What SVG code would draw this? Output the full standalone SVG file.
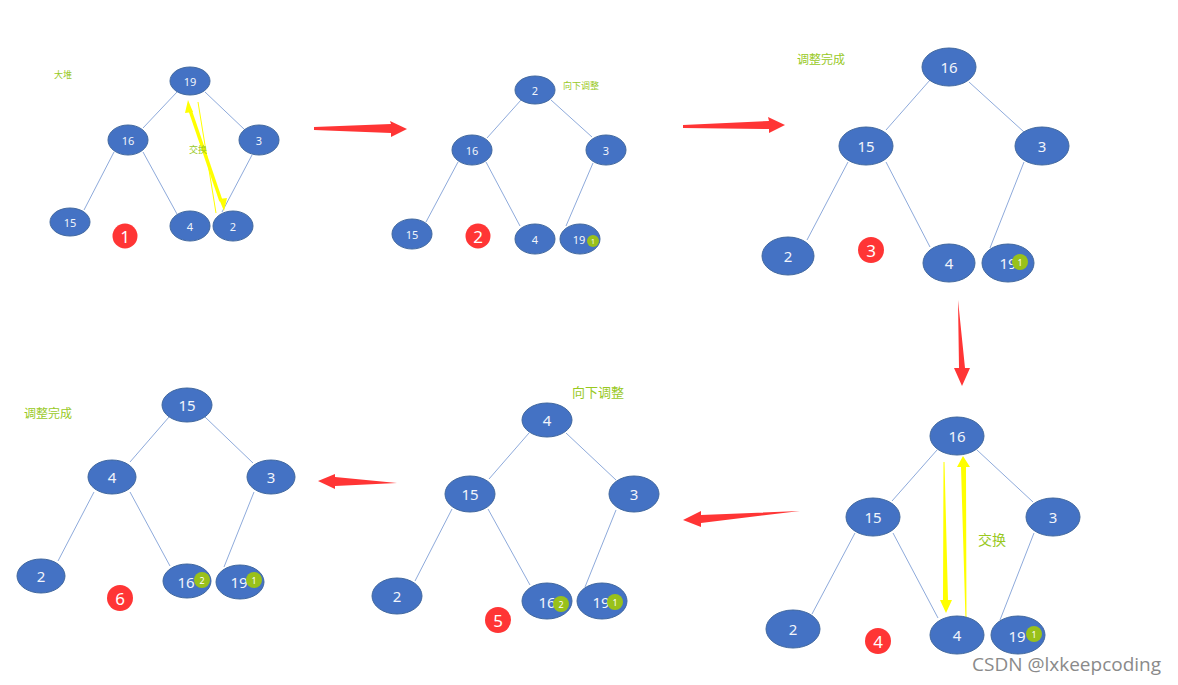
<svg xmlns="http://www.w3.org/2000/svg" width="1178" height="685" viewBox="0 0 1178 685">
<style>
.n{fill:#4472C4;stroke:#41689f;stroke-width:1}
.t{fill:#f2f5fb;font-family:"Noto Sans","Noto Sans CJK SC",sans-serif;text-anchor:middle;dominant-baseline:central}
.s{font-size:11px}
.b{font-size:15px}
.e{stroke:#8eaadb;stroke-width:1;fill:none}
.g{fill:#99c11a}
.gt{fill:#fff;font-family:"Noto Sans",sans-serif;text-anchor:middle;dominant-baseline:central}
.r{fill:#ff3535}
.rt{fill:#fff;font-family:"Noto Sans",sans-serif;text-anchor:middle;dominant-baseline:central;font-size:17px}
.lab{fill:#99c91f;font-family:"Noto Sans CJK SC","Noto Sans",sans-serif}
.ra{fill:#ff3535}
.y{fill:#ffff00}
</style>
<rect width="1178" height="685" fill="#fff"/>
<g id="connectors">
<path class="e" d="M177,92L143,128M205,92L245,130M114,152L84,210M143,152L177,214M252,155L222,212"/>
<path class="e" d="M521,100L487,138M551,100L592,137M458,162L426,222M486,162L520,226M593,163L566,226"/>
<path class="e" d="M930,80L886,130M969,82L1024,132M848,162L807,240M886,162L930,247M1024,162L990,248"/>
<path class="e" d="M937,450L892,501M977,450L1033,502M855,533L812,614M893,533L938,618M1034,533L1000,620"/>
<path class="e" d="M529,433L489,479M566,433L616,480M452,509L415,581M488,509L530,585M616,510L585,587"/>
<path class="e" d="M169,417L130,462M205,417L253,463M94,492L58,561M130,492L170,566M254,492L224,567"/>
<polygon class="ra" points="314,127 391,124 390,121 407,129 391,137 391,133 314,130"/>
<polygon class="ra" points="683,125 769,121 768,117 785,125 769,133 769,129 683,128"/>
<polygon class="ra" points="958,300 965,368 970,368 962,386 954,368 959,368"/>
<polygon class="ra" points="800,511 701,515 701,511 683,520 701,527 701,523"/>
<polygon class="ra" points="397,483 335,477 335,474 318,481 335,489 335,486"/>
<line x1="198" y1="102" x2="216" y2="213" stroke="#ffff00" stroke-width="1"/>
<line x1="190" y1="110" x2="221" y2="201" stroke="#ffff00" stroke-width="3.5"/>
<polygon class="y" points="188,100 193,112 185,113"/>
<polygon class="y" points="224,211 219,199 227,198"/>
<polygon class="y" points="943.5,462 944.5,462 948,600 952,600 946,613 940,600 943,600"/>
<polygon class="y" points="965.5,620 966.5,620 966,467 970,467 963,456 957,467 961,467"/>
</g>
<g id="p1">
<text class="lab" x="54" y="78" font-size="9">大堆</text>
<text class="lab" x="189" y="153" font-size="9">交换</text>
<g id="p1-19"><ellipse class="n" cx="190" cy="81" rx="20" ry="14"/><text class="t s" x="190" y="81">19</text></g>
<g id="p1-16"><ellipse class="n" cx="128" cy="140" rx="20" ry="15"/><text class="t s" x="128" y="140">16</text></g>
<g id="p1-3"><ellipse class="n" cx="259" cy="140" rx="20" ry="15"/><text class="t s" x="259" y="140">3</text></g>
<g id="p1-15"><ellipse class="n" cx="70" cy="222" rx="20" ry="14"/><text class="t s" x="70" y="222">15</text></g>
<g id="p1-4"><ellipse class="n" cx="190" cy="226" rx="20" ry="15"/><text class="t s" x="190" y="226">4</text></g>
<g id="p1-2"><ellipse class="n" cx="233" cy="226" rx="20" ry="15"/><text class="t s" x="233" y="226">2</text></g>
<g id="step1"><circle class="r" cx="125" cy="236" r="12.5"/><text class="rt" x="125" y="236">1</text></g>
</g>
<g id="p2">
<text class="lab" x="563" y="89" font-size="9">向下调整</text>
<g id="p2-2"><ellipse class="n" cx="535" cy="90" rx="20" ry="14"/><text class="t s" x="535" y="90">2</text></g>
<g id="p2-16"><ellipse class="n" cx="472" cy="150" rx="20" ry="15"/><text class="t s" x="472" y="150">16</text></g>
<g id="p2-3"><ellipse class="n" cx="606" cy="150" rx="20" ry="15"/><text class="t s" x="606" y="150">3</text></g>
<g id="p2-15"><ellipse class="n" cx="412" cy="234" rx="20" ry="15"/><text class="t s" x="412" y="234">15</text></g>
<g id="p2-4"><ellipse class="n" cx="535" cy="239" rx="20" ry="15"/><text class="t s" x="535" y="239">4</text></g>
<g id="p2-19"><ellipse class="n" cx="580" cy="239" rx="20" ry="15"/><text class="t s" x="579" y="239">19</text><circle class="g" cx="593" cy="241" r="6"/><text class="gt" x="593" y="241" font-size="7">1</text></g>
<g id="step2"><circle class="r" cx="478" cy="236" r="12.5"/><text class="rt" x="478" y="236">2</text></g>
</g>
<g id="p3">
<text class="lab" x="797" y="64" font-size="12">调整完成</text>
<g id="p3-16"><ellipse class="n" cx="949" cy="67" rx="27" ry="19"/><text class="t b" x="949" y="67">16</text></g>
<g id="p3-15"><ellipse class="n" cx="866" cy="146" rx="27" ry="19"/><text class="t b" x="866" y="146">15</text></g>
<g id="p3-3"><ellipse class="n" cx="1042" cy="146" rx="27" ry="19"/><text class="t b" x="1042" y="146">3</text></g>
<g id="p3-2"><ellipse class="n" cx="788" cy="256" rx="26" ry="19"/><text class="t b" x="788" y="256">2</text></g>
<g id="p3-4"><ellipse class="n" cx="949" cy="263" rx="26" ry="19"/><text class="t b" x="949" y="263">4</text></g>
<g id="p3-19"><ellipse class="n" cx="1008" cy="263" rx="26" ry="19"/><text class="t b" x="1008" y="263">19</text><circle class="g" cx="1020" cy="262" r="8"/><text class="gt" x="1020" y="262" font-size="9">1</text></g>
<g id="step3"><circle class="r" cx="871" cy="250" r="13"/><text class="rt" x="871" y="250">3</text></g>
</g>
<g id="p4">
<text class="lab" x="978" y="545" font-size="14">交换</text>
<g id="p4-16"><ellipse class="n" cx="957" cy="436" rx="27" ry="19"/><text class="t b" x="957" y="436">16</text></g>
<g id="p4-15"><ellipse class="n" cx="873" cy="517" rx="27" ry="19"/><text class="t b" x="873" y="517">15</text></g>
<g id="p4-3"><ellipse class="n" cx="1053" cy="517" rx="27" ry="19"/><text class="t b" x="1053" y="517">3</text></g>
<g id="p4-2"><ellipse class="n" cx="793" cy="629" rx="27" ry="19"/><text class="t b" x="793" y="629">2</text></g>
<g id="p4-4"><ellipse class="n" cx="957" cy="635" rx="27" ry="19"/><text class="t b" x="957" y="635">4</text></g>
<g id="p4-19"><ellipse class="n" cx="1018" cy="635" rx="27" ry="19"/><text class="t b" x="1017" y="636">19</text><circle class="g" cx="1034" cy="634" r="8"/><text class="gt" x="1034" y="634" font-size="9">1</text></g>
<g id="step4"><circle class="r" cx="878" cy="641" r="13"/><text class="rt" x="878" y="641">4</text></g>
</g>
<g id="p5">
<text class="lab" x="572" y="397" font-size="13">向下调整</text>
<g id="p5-4"><ellipse class="n" cx="547" cy="420" rx="25" ry="17"/><text class="t b" x="547" y="420" font-size="14">4</text></g>
<g id="p5-15"><ellipse class="n" cx="470" cy="494" rx="25" ry="18"/><text class="t b" x="470" y="494">15</text></g>
<g id="p5-3"><ellipse class="n" cx="634" cy="494" rx="25" ry="18"/><text class="t b" x="634" y="494">3</text></g>
<g id="p5-2"><ellipse class="n" cx="397" cy="596" rx="25" ry="18"/><text class="t b" x="397" y="596">2</text></g>
<g id="p5-16"><ellipse class="n" cx="547" cy="601" rx="25" ry="18"/><text class="t b" x="547" y="602">16</text><circle class="g" cx="561" cy="604" r="8"/><text class="gt" x="561" y="604" font-size="9">2</text></g>
<g id="p5-19"><ellipse class="n" cx="602" cy="601" rx="25" ry="18"/><text class="t b" x="601" y="602">19</text><circle class="g" cx="615" cy="602" r="8"/><text class="gt" x="615" y="602" font-size="9">1</text></g>
<g id="step5"><circle class="r" cx="498" cy="620" r="13"/><text class="rt" x="498" y="620">5</text></g>
</g>
<g id="p6">
<text class="lab" x="24" y="418" font-size="12">调整完成</text>
<g id="p6-15"><ellipse class="n" cx="187" cy="405" rx="25" ry="17"/><text class="t b" x="187" y="405" font-size="14">15</text></g>
<g id="p6-4"><ellipse class="n" cx="112" cy="477" rx="24" ry="17"/><text class="t b" x="112" y="477" font-size="14">4</text></g>
<g id="p6-3"><ellipse class="n" cx="271" cy="477" rx="24" ry="17"/><text class="t b" x="271" y="477" font-size="14">3</text></g>
<g id="p6-2"><ellipse class="n" cx="41" cy="576" rx="24" ry="17"/><text class="t b" x="41" y="576" font-size="14">2</text></g>
<g id="p6-16"><ellipse class="n" cx="187" cy="581" rx="24" ry="17"/><text class="t b" x="186" y="582" font-size="14">16</text><circle class="g" cx="202" cy="580" r="8"/><text class="gt" x="202" y="580" font-size="9">2</text></g>
<g id="p6-19"><ellipse class="n" cx="240" cy="582" rx="24" ry="17"/><text class="t b" x="239" y="582" font-size="14">19</text><circle class="g" cx="254" cy="580" r="8"/><text class="gt" x="254" y="580" font-size="9">1</text></g>
<g id="step6"><circle class="r" cx="120" cy="598" r="13"/><text class="rt" x="120" y="598">6</text></g>
</g>
<text x="972" y="671" font-family="'Open Sans','Noto Sans',sans-serif" font-size="19" fill="#8a8a8a">CSDN @lxkeepcoding</text>
</svg>
